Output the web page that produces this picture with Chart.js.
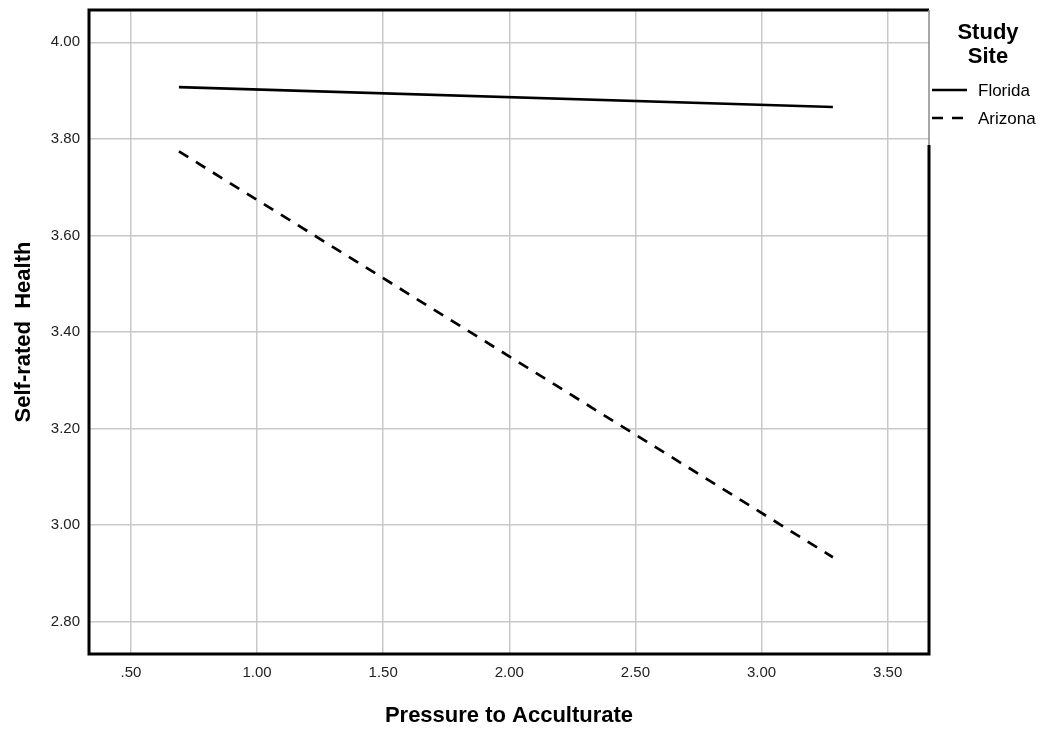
<!DOCTYPE html>
<html>
<head>
<meta charset="utf-8">
<script src="https://cdn.jsdelivr.net/npm/chart.js@4.4.0/dist/chart.umd.min.js"></script>
<style>
  html, body { margin: 0; padding: 0; background: #fff; }
  #wrap { width: 1050px; height: 733px; position: relative; }
</style>
</head>
<body>
<div id="wrap"><canvas id="plot"></canvas></div>
<script>
// values
var pressure = [0.69, 3.283];
var florida = [3.907, 3.866];
var arizona = [3.774, 2.933];
var siteNames = ['Florida', 'Arizona'];
var xTicks = [0.5, 1.0, 1.5, 2.0, 2.5, 3.0, 3.5];
var yTicks = [2.8, 3.0, 3.2, 3.4, 3.6, 3.8, 4.0];

function fmt(v) {
    var s = v.toFixed(2);
    return s.indexOf('0.') === 0 ? s.slice(1) : s;
}

function points(ys) {
    return pressure.map(function(x, i) { return { x: x, y: ys[i] }; });
}

// frame + legend, SPSS style
var spssFrame = {
    id: 'spssFrame',
    afterDraw: function(chart) {
        var c = chart.ctx, a = chart.chartArea;
        c.save();
        c.strokeStyle = '#000';
        c.lineWidth = 3;
        c.beginPath();
        c.moveTo(a.right, a.top);
        c.lineTo(a.left, a.top);
        c.lineTo(a.left, a.bottom);
        c.lineTo(a.right, a.bottom);
        c.lineTo(a.right, 145);
        c.stroke();
        c.strokeStyle = '#888';
        c.lineWidth = 1.5;
        c.beginPath();
        c.moveTo(a.right, a.top);
        c.lineTo(a.right, 145);
        c.stroke();

        // legend
        c.fillStyle = '#000';
        c.textAlign = 'center';
        c.textBaseline = 'middle';
        c.font = 'bold 22px "Liberation Sans", Arial, sans-serif';
        c.fillText('Study', 988, 33);
        c.fillText('Site', 988, 57);
        c.font = '17px "Liberation Sans", Arial, sans-serif';
        c.textAlign = 'left';
        chart.data.datasets.forEach(function(ds, i) {
            var y = 90 + i * 28;
            c.strokeStyle = '#000';
            c.lineWidth = 2.5;
            c.setLineDash(ds.borderDash || []);
            c.beginPath();
            c.moveTo(932, y);
            c.lineTo(967, y);
            c.stroke();
            c.setLineDash([]);
            c.fillText(ds.label, 978, y + 1);
        });
        c.restore();
    }
};

var ctx = document.getElementById('plot').getContext('2d');
var chart = new Chart(ctx, {
    type: 'line',
    data: {
        datasets: [{
            label: siteNames[0],
            data: points(florida),
            borderColor: '#000',
            borderWidth: 2.7,
            pointRadius: 0,
            fill: false
        }, {
            label: siteNames[1],
            data: points(arizona),
            borderColor: '#000',
            borderWidth: 2.7,
            borderDash: [11, 9],
            pointRadius: 0,
            fill: false
        }]
    },
    options: {
        responsive: true,
        maintainAspectRatio: false,
        animation: false,
        layout: { padding: { top: 10, right: 121, left: 7, bottom: 0 } },
        plugins: {
            legend: { display: false },
            tooltip: { enabled: false }
        },
        scales: {
            x: {
                type: 'linear',
                min: 0.3335,
                max: 3.664,
                afterBuildTicks: function(s) { s.ticks = xTicks.map(function(v) { return { value: v }; }); },
                afterFit: function(s) { s.height = 79; s.paddingLeft = 0; s.paddingRight = 0; },
                grid: { color: '#c8c8c8', lineWidth: 1.5, drawTicks: false },
                border: { display: false },
                ticks: {
                    color: '#222',
                    padding: 10,
                    font: { family: '"Liberation Sans", Arial, sans-serif', size: 15 },
                    maxRotation: 0,
                    callback: function(v) { return fmt(v); }
                },
                title: {
                    display: true,
                    text: 'Pressure to Acculturate',
                    color: '#000',
                    font: { family: '"Liberation Sans", Arial, sans-serif', size: 22, weight: 'bold' },
                    padding: { top: 19 }
                }
            },
            y: {
                type: 'linear',
                min: 2.7325,
                max: 4.067,
                afterBuildTicks: function(s) { s.ticks = yTicks.map(function(v) { return { value: v }; }); },
                afterFit: function(s) { s.width = 82; s.paddingTop = 0; s.paddingBottom = 0; },
                grid: { color: '#c8c8c8', lineWidth: 1.5, drawTicks: false },
                border: { display: false },
                ticks: {
                    color: '#222',
                    padding: 9,
                    font: { family: '"Liberation Sans", Arial, sans-serif', size: 15 },
                    callback: function(v) { return fmt(v); }
                },
                title: {
                    display: true,
                    text: 'Self-rated  Health',
                    color: '#000',
                    font: { family: '"Liberation Sans", Arial, sans-serif', size: 22, weight: 'bold' },
                    padding: { bottom: 0 }
                }
            }
        }
    },
    plugins: [spssFrame]
});
</script>
</body>
</html>
